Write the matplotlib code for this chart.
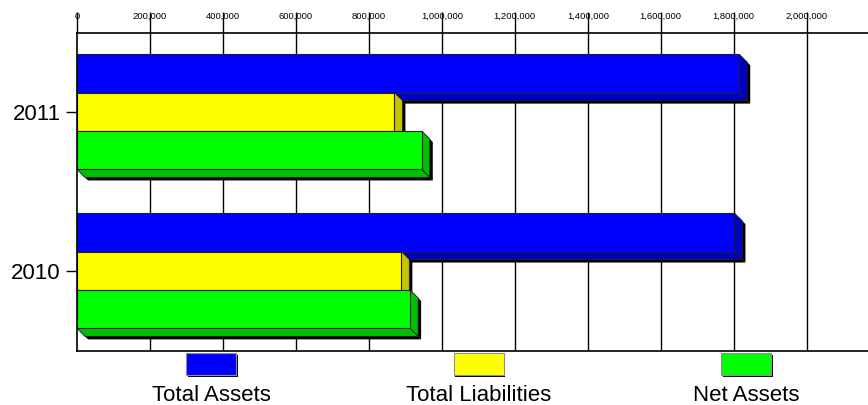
import numpy as np
import matplotlib
matplotlib.use("Agg")
import matplotlib.pyplot as plt
from matplotlib.patches import Polygon, Rectangle

plt.rcParams['font.family'] = ['Liberation Sans', 'DejaVu Sans']

years = ['2011', '2010']
series = ['Total Assets', 'Total Liabilities', 'Net Assets']
total_assets = [1815000, 1802000]
total_liabilities = [870000, 889000]
net_assets = [945000, 913000]
values = [total_assets, total_liabilities, net_assets]
face_colors = ['#0000ff', '#ffff00', '#00ff00']
side_colors = ['#0000c0', '#c4c400', '#00c000']
xticks = np.arange(0, 2000001, 200000)

W, H = 868, 405
fig = plt.figure(figsize=(W / 100, H / 100), dpi=100)
ax_l, ax_r, ax_t, ax_b = 77, 868, 33, 351
ax = fig.add_axes([ax_l / W, 1 - ax_b / H, (ax_r - ax_l) / W, (ax_b - ax_t) / H])

xmax = 2168000
ytop, ybot = -0.496, 1.505
ax.set_xlim(0, xmax)
ax.set_ylim(ybot, ytop)

# pixel -> data scale, for the fake 3d depth
sx = xmax / (ax_r - ax_l)
sy = (ybot - ytop) / (ax_b - ax_t)
dx, dy = 8 * sx, 8 * sy
shx, shy = 3 * sx, 3 * sy

h = 0.2417
ypos = np.arange(len(years))

for i, vals in enumerate(values):
    z = 3 + i
    for j, v in enumerate(vals):
        c = ypos[j] + (i - 1) * h
        top, bot = c - h / 2, c + h / 2
        side = [(v, top), (v + dx, top + dy), (v + dx, bot + dy), (v, bot)]
        under = [(0, bot), (v, bot), (v + dx, bot + dy), (dx, bot + dy)]
        # black drop shadow
        for pts in (side, under):
            sh = [(px + shx, py + shy) for px, py in pts]
            ax.add_patch(Polygon(sh, closed=True, facecolor='black',
                                 edgecolor='none', zorder=z + 0.1))
        for pts in (side, under):
            ax.add_patch(Polygon(pts, closed=True, facecolor=side_colors[i],
                                 edgecolor='#202020', lw=0.6, zorder=z + 0.2))
    ax.barh(ypos + (i - 1) * h, vals, height=h, color=face_colors[i],
            edgecolor='#202020', linewidth=0.8, zorder=z + 0.3)

for xv in xticks[1:]:
    ax.axvline(xv, color='black', lw=1, zorder=1)

ax.xaxis.tick_top()
ax.set_xticks(xticks)
ax.set_xticklabels([f'{v:,}' for v in xticks], fontsize=6.8)
ax.tick_params(axis='x', which='both', direction='out', length=15, width=1,
               pad=-6.5, bottom=False)
ax.set_yticks(ypos)
ax.set_yticklabels(years, fontsize=16)
ax.tick_params(axis='y', direction='out', length=8, width=1, pad=3.8)

for s in ['top', 'bottom', 'left']:
    ax.spines[s].set_linewidth(1.2)
    ax.spines[s].set_zorder(10)
ax.spines['right'].set_visible(False)

# legend: swatch above text
centers = [211, 478.5, 746]
sw_w, sw_h = 50, 21.5
sw_top = 353.3
for cx, name, col in zip(centers, series, face_colors):
    x0 = cx - sw_w / 2
    fig.add_artist(Rectangle(((x0 + 2) / W, 1 - (sw_top + sw_h + 2) / H),
                             sw_w / W, sw_h / H, transform=fig.transFigure,
                             facecolor='black', edgecolor='none'))
    fig.add_artist(Rectangle((x0 / W, 1 - (sw_top + sw_h) / H),
                             sw_w / W, sw_h / H, transform=fig.transFigure,
                             facecolor=col, edgecolor='#909090', lw=0.8))
    fig.text(cx / W, 1 - 401 / H, name, ha='center', va='baseline',
             fontsize=16)

fig.savefig('out.png', dpi=100)
